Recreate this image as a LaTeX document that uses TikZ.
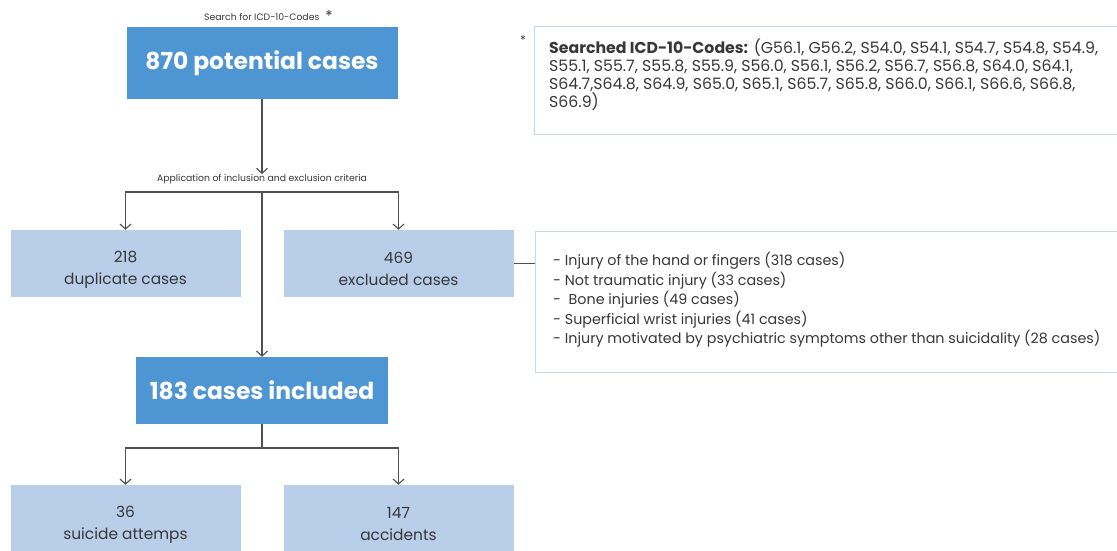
\documentclass[tikz,border=0pt]{standalone}
\usepackage{fontspec}
\setmainfont{Poppins}
\usetikzlibrary{arrows.meta,positioning}
\definecolor{darkbox}{RGB}{78,149,211}
\definecolor{lightbox}{RGB}{185,207,233}
\definecolor{noteline}{RGB}{200,215,235}
\definecolor{linegray}{RGB}{80,80,80}
\definecolor{textgray}{RGB}{55,55,55}
% count on top, label below, pushed a little down in the box
\newcommand{\countlines}[2]{\rule{0pt}{23pt}#1\\#2}

\begin{document}
\begin{tikzpicture}[x=1pt, y=-1pt, every node/.style={align=center, inner sep=0pt}, >={Straight Barb[length=5pt,width=11pt]}]
    % styles
    \tikzstyle{main} = [rectangle, fill=darkbox, text=white, font=\fontsize{23.4}{28}\selectfont\bfseries, minimum width=271pt, minimum height=72pt]
    \tikzstyle{sub} = [rectangle, fill=lightbox, text=textgray, font=\fontsize{15.4}{22}\selectfont, minimum width=230pt, minimum height=67pt]
    \tikzstyle{frame} = [rectangle, draw=noteline, line width=1.3pt, anchor=north west, minimum width=600pt]
    \tikzstyle{notetext} = [anchor=north west, align=left, text=textgray, font=\fontsize{15.75}{18}\selectfont]
    \tikzstyle{caption} = [text=textgray, font=\fontsize{9.3}{11}\selectfont]
    \tikzstyle{arrow} = [line width=1.1pt, draw=linegray, ->]
    \tikzstyle{link} = [line width=1.1pt, draw=linegray]

    \useasboundingbox (0,0) rectangle (1117,551);
    \clip (0,0) rectangle (1117,551);

    % main flow
    \node[caption, anchor=west] (search) at (204,16) {Search for ICD-10-Codes\hspace{6pt}\raisebox{-1pt}{\fontsize{15}{15}\selectfont *}};
    \node[main] (potential) at (262,63) {870 potential cases};
    \node[caption] (criteria) at (262,179) {Application of inclusion and exclusion criteria};
    \coordinate (split) at (262,192);

    \node[sub] (duplicate) at (125.5,263.5) {\countlines{218}{duplicate cases}};
    \node[sub] (excluded) at (398.5,263.5) {\countlines{469}{excluded cases}};

    \node[main, minimum width=252pt, minimum height=67pt] (included) at (262,390.5) {183 cases included};
    \coordinate (join) at (262,448);

    \node[sub] (suicide) at (125.5,518.5) {\countlines{36}{suicide attemps}};
    \node[sub] (accidents) at (398.5,518.5) {\countlines{147}{accidents}};

    % side boxes
    \node[caption, font=\fontsize{12}{12}\selectfont] (star) at (523,40) {*};
    \node[frame, minimum height=108pt] (codes) at (534,26) {};
    \node[notetext] (codetext) at (549,39) {\textbf{Searched ICD-10-Codes:} (G56.1, G56.2, S54.0, S54.1, S54.7, S54.8, S54.9,\\
        S55.1, S55.7, S55.8, S55.9, S56.0, S56.1, S56.2, S56.7, S56.8, S64.0, S64.1,\\
        S64.7,S64.8, S64.9, S65.0, S65.1, S65.7, S65.8, S66.0, S66.1, S66.6, S66.8,\\
        S66.9)};

    \node[frame, minimum height=141pt] (reasons) at (535,231) {};
    \node[notetext, font=\fontsize{14.3}{19.5}\selectfont] (reasontext) at (553,252) {- Injury of the hand or fingers (318 cases)\\
        - Not traumatic injury (33 cases)\\
        -\ \ Bone injuries (49 cases)\\
        - Superficial wrist injuries (41 cases)\\
        - Injury motivated by psychiatric symptoms other than suicidality (28 cases)};

    % arrows
    \draw[arrow] (potential) -- (criteria);
    \draw[arrow] (split) -| (duplicate);
    \draw[arrow] (split) -| (excluded);
    \draw[arrow] (split) -- (included);
    \draw[link] (excluded.east) -- (excluded.east -| reasons.west);

    \draw[link] (included) -- (join);
    \draw[arrow] (join) -| (suicide);
    \draw[arrow] (join) -| (accidents);
\end{tikzpicture}
\end{document}
